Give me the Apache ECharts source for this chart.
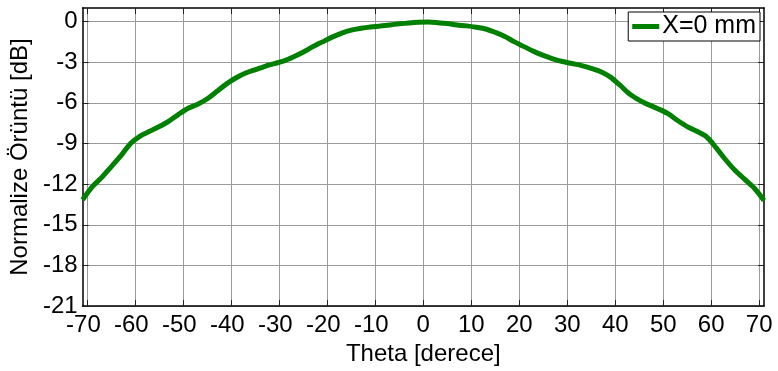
<!DOCTYPE html>
<html>
<head>
<meta charset="utf-8">
<script src="https://cdn.jsdelivr.net/npm/echarts@6/dist/echarts.min.js"></script>
<style>
  html, body { margin: 0; padding: 0; background: #fff; }
  #chart { width: 778px; height: 371px; }
</style>
</head>
<body>
<div id="chart"></div>
<script>
// Normalized radiation pattern, X = 0 mm
const thetaDeg = [
  -71, -69, -67, -65, -63, -61, -59, -57, -55, -53, -51, -49, -47, -45, -43, -41, -39, -37,
  -35, -33, -31, -29, -27, -25, -23, -21, -19, -17, -15, -13, -11, -9, -7, -5, -3, -1,
  1, 3, 5, 7, 9, 11, 13, 15, 17, 19, 21, 23, 25, 27, 29, 31, 33, 35,
  37, 39, 41, 43, 45, 47, 49, 51, 53, 55, 57, 59, 61, 63, 65, 67, 69, 71
];
const patternDb = [
  -13.15, -12.2, -11.5, -10.7, -9.9, -9.0, -8.45, -8.1, -7.75, -7.35, -6.85, -6.4, -6.1, -5.7, -5.15, -4.6, -4.15, -3.8,
  -3.55, -3.3, -3.1, -2.9, -2.6, -2.25, -1.85, -1.5, -1.15, -0.85, -0.63, -0.5, -0.4, -0.33, -0.25, -0.17, -0.1, -0.05,
  -0.03, -0.08, -0.15, -0.25, -0.32, -0.42, -0.55, -0.8, -1.1, -1.5, -1.85, -2.2, -2.5, -2.75, -2.95, -3.1, -3.25, -3.45,
  -3.7, -4.1, -4.7, -5.35, -5.8, -6.15, -6.45, -6.8, -7.3, -7.75, -8.1, -8.5, -9.3, -10.2, -11.0, -11.65, -12.3, -13.2
];
const xTicks = [-70, -60, -50, -40, -30, -20, -10, 0, 10, 20, 30, 40, 50, 60, 70];
const yTicks = [-21, -18, -15, -12, -9, -6, -3, 0];
const seriesName = 'X=0 mm';
const xTitle = 'Theta [derece]';
const yTitle = 'Normalize Örüntü [dB]';

const FONT = "'Liberation Sans', Arial, sans-serif";
const chart = echarts.init(document.getElementById('chart'), null, { renderer: 'canvas' });

const boxLine = { show: true, onZero: false, lineStyle: { color: '#000', width: 1.5 } };
const tickIn = (vals) => ({ show: true, inside: true, length: 6, customValues: vals, lineStyle: { color: '#222', width: 1 } });

// minus sign hangs left of centred digits: pad with an invisible trailing hyphen
const xLabelFmt = (v) => (v < 0 ? v + '{h|-}' : String(v));

chart.setOption({
  animation: false,
  backgroundColor: '#fff',
  grid: { left: 82, right: 14, top: 8, bottom: 60, containLabel: false },
  legend: {
    right: 18, top: 12,
    data: [seriesName],
    icon: 'rect', itemWidth: 27, itemHeight: 5, itemGap: 4,
    padding: [2, 4, 2, 4],
    backgroundColor: '#fff', borderColor: '#000', borderWidth: 1, borderRadius: 0,
    textStyle: { fontFamily: FONT, fontSize: 25, color: '#000', padding: [0, 0, 0, -2] }
  },
  xAxis: [
    {
      type: 'value', min: -71, max: 71, position: 'bottom',
      name: xTitle, nameLocation: 'middle', nameGap: 31,
      nameTextStyle: { fontFamily: FONT, fontSize: 24, color: '#000' },
      axisLine: boxLine,
      axisTick: tickIn(xTicks),
      axisLabel: {
        customValues: xTicks, margin: 7, formatter: xLabelFmt,
        fontFamily: FONT, fontSize: 24, color: '#000',
        rich: { h: { fontFamily: FONT, fontSize: 24, color: 'rgba(0,0,0,0)' } }
      },
      splitLine: { show: true, lineStyle: { color: '#9a9a9a', width: 1 } }
    },
    {
      type: 'value', min: -71, max: 71, position: 'top',
      axisLine: boxLine,
      axisTick: tickIn(xTicks),
      axisLabel: { show: false },
      splitLine: { show: false }
    }
  ],
  yAxis: [
    {
      type: 'value', min: -21, max: 1, position: 'left',
      name: yTitle, nameLocation: 'middle', nameGap: 41, nameRotate: 90,
      nameTextStyle: { fontFamily: FONT, fontSize: 24, color: '#000' },
      axisLine: boxLine,
      axisTick: tickIn(yTicks),
      axisLabel: { customValues: yTicks, margin: 5, fontFamily: FONT, fontSize: 24, color: '#000' },
      splitLine: { show: true, lineStyle: { color: '#9a9a9a', width: 1 } }
    },
    {
      type: 'value', min: -21, max: 1, position: 'right',
      axisLine: boxLine,
      axisTick: tickIn(yTicks),
      axisLabel: { show: false },
      splitLine: { show: false }
    }
  ],
  series: [
    {
      name: seriesName,
      type: 'line',
      xAxisIndex: 0, yAxisIndex: 0,
      data: thetaDeg.map((t, i) => [t, patternDb[i]]),
      smooth: 0.3,
      showSymbol: false,
      symbol: 'none',
      lineStyle: { color: '#008000', width: 5 },
      itemStyle: { color: '#008000' },
      clip: true
    }
  ]
});
</script>
</body>
</html>
